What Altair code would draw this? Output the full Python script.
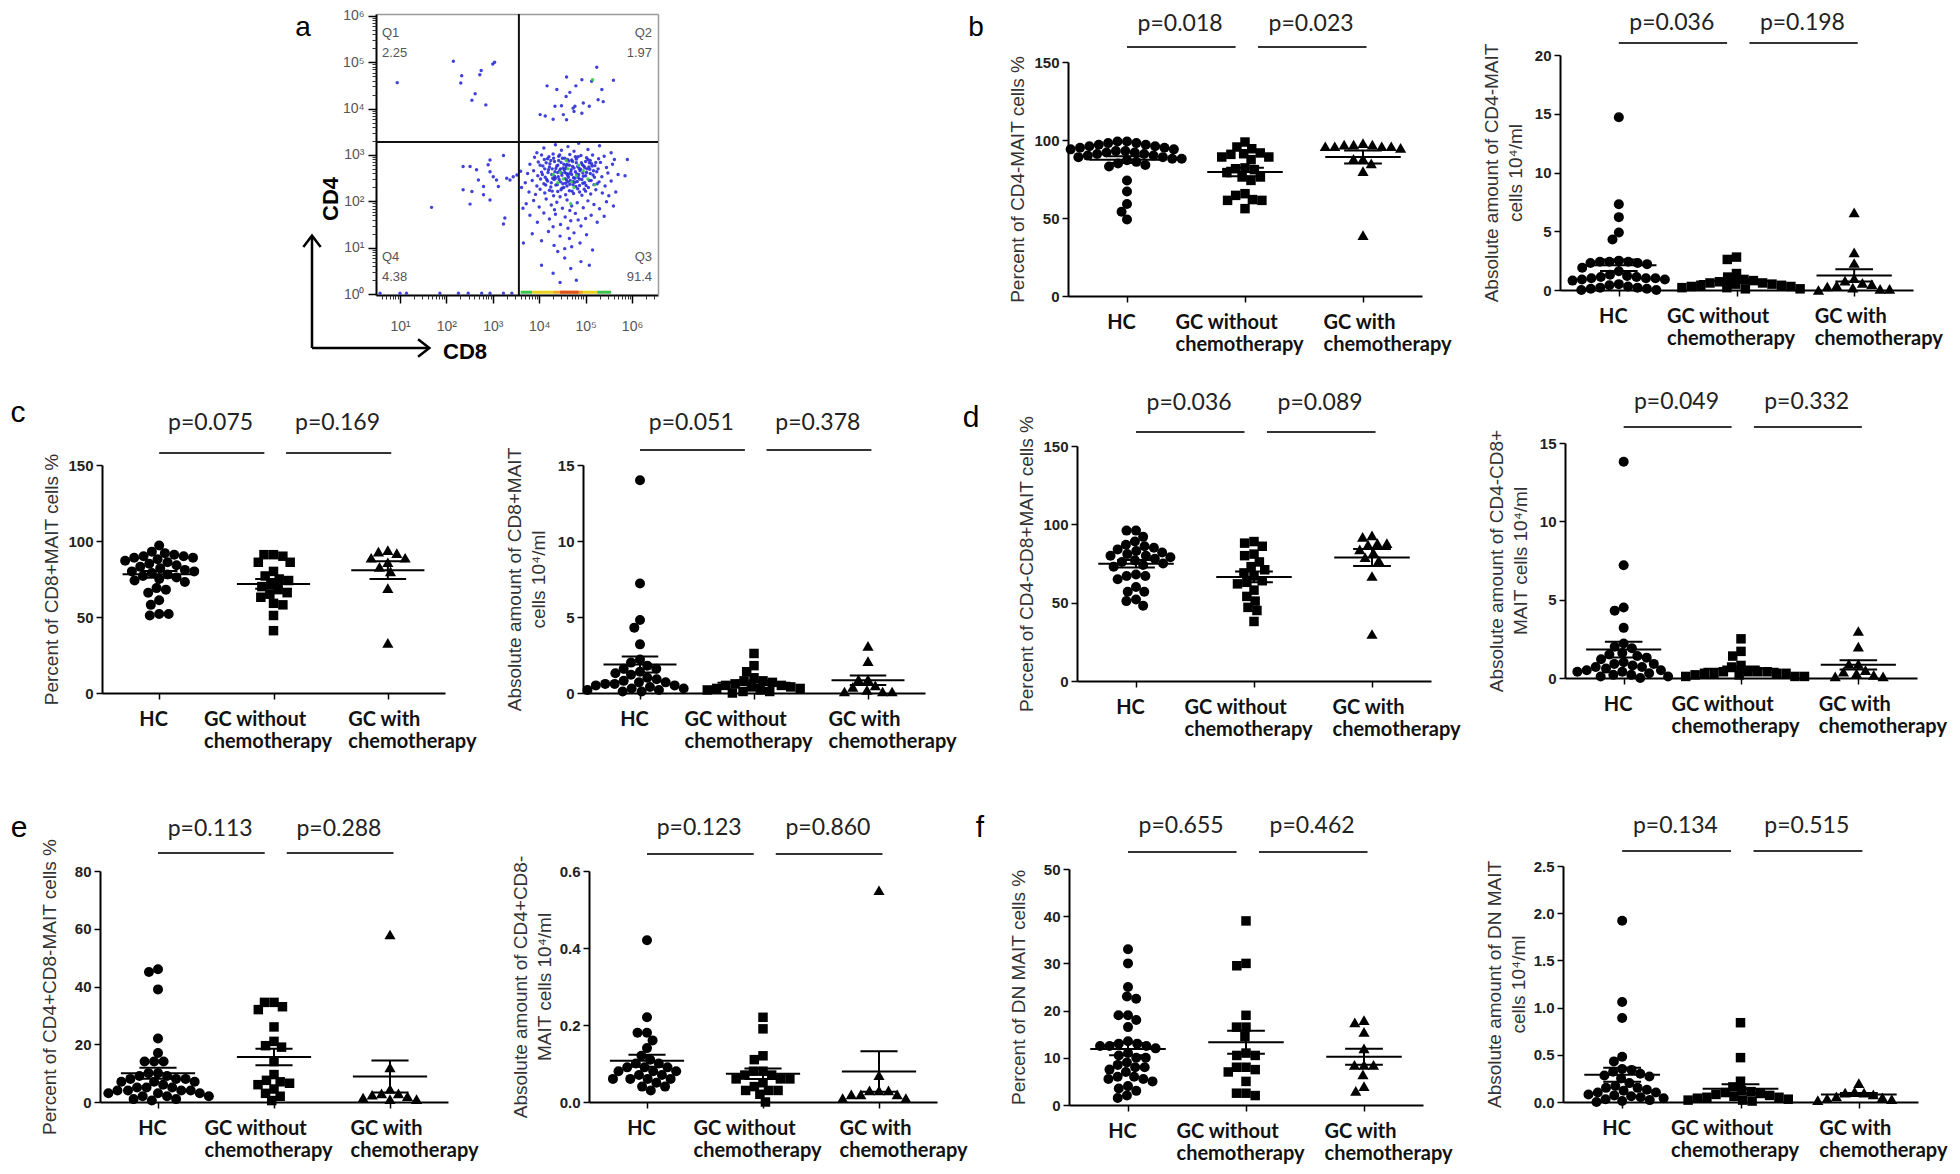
import altair as alt
import pandas as pd

# ============================ DATA ============================
CATS = ["HC", "GC without chemotherapy", "GC with chemotherapy"]

# b  CD4- MAIT
b_pct_hc = [99, 99, 98, 98, 97, 97, 96, 96, 95, 95, 94, 94, 93, 93, 92, 92, 91, 91, 90, 90, 89, 89, 88, 88, 87, 86, 85, 84, 83, 74, 67, 59, 54, 49]
b_pct_wo = [95.5, 98.7, 94.4, 91.7, 90.8, 89.1, 87.4, 89.1, 91.2, 81.6, 82.1, 81.0, 79.1, 76.3, 74.1, 76.3, 64.5, 61.3, 56.0, 65.6, 61.3, 61.8]
b_pct_w = [96, 97, 96, 97, 98, 96, 97, 96, 95, 88, 88, 85, 80, 39]
b_abs_hc = [14.7, 7.3, 6.2, 4.9, 4.3, 2.5, 2.4, 2.4, 2.4, 2.3, 2.3, 2.2, 1.9, 1.6, 1.3, 1.2, 1.1, 1.1, 1.0, 1.0, 1.0, 0.9, 0.9, 0.8, 0.5, 0.4, 0.3, 0.2, 0.2, 0.1, 0.1, 0.0, 0.0]
b_abs_wo = [2.8, 2.6, 1.4, 1.1, 0.9, 0.8, 0.7, 0.6, 0.6, 0.5, 0.5, 0.4, 0.4, 0.3, 0.3, 0.2, 0.2, 0.1, 0.1]
b_abs_w = [6.6, 3.2, 2.3, 1.0, 0.8, 0.6, 0.5, 0.4, 0.3, 0.2, 0.1, 0.1, 0.0]

# c  CD8+ MAIT
c_pct_hc = [97, 93, 92, 91, 90, 90, 89, 89, 88, 87, 86, 85, 84, 83, 82, 81, 80, 80, 79, 78, 77, 76, 75, 74, 73, 69, 68, 66, 61, 58, 52, 51, 52]
c_pct_wo = [91, 90, 91, 86, 86, 80, 77, 75, 74, 72, 70, 68, 66, 65, 63, 59, 58, 51, 41]
c_pct_w = [94, 93, 92, 89, 89, 86, 83, 80, 69, 33]
c_abs_hc = [14.0, 7.2, 4.8, 4.3, 3.2, 2.2, 2.0, 1.8, 1.6, 1.6, 1.4, 1.3, 1.2, 1.0, 0.9, 0.8, 0.7, 0.7, 0.6, 0.6, 0.5, 0.5, 0.4, 0.3, 0.3, 0.2, 0.2, 0.1, 0.1]
c_abs_wo = [2.6, 1.8, 1.4, 1.0, 0.8, 0.8, 0.7, 0.6, 0.5, 0.5, 0.4, 0.4, 0.3, 0.3, 0.2, 0.2, 0.1, 0.1, 0.0]
c_abs_w = [3.1, 2.1, 0.9, 0.9, 0.5, 0.4, 0.2, 0.1, 0.1, 0.1]

# d  CD4-CD8+ MAIT
d_pct_hc = [96, 96, 92, 89, 87, 86, 85, 84, 83, 82, 81, 80, 80, 79, 78, 77, 76, 75, 74, 73, 68, 67, 67, 65, 60, 57, 57, 52, 51, 48]
d_pct_wo = [89, 88, 86, 81, 80, 76, 73, 71, 69, 67, 64, 63, 62, 58, 54, 51, 47, 45, 38]
d_pct_w = [93, 92, 88, 88, 87, 84, 82, 79, 77, 67, 30]
d_abs_hc = [13.8, 7.2, 4.5, 4.3, 3.2, 2.2, 2.0, 1.9, 1.6, 1.5, 1.4, 1.3, 1.2, 1.0, 0.9, 0.9, 0.8, 0.7, 0.7, 0.6, 0.5, 0.5, 0.4, 0.4, 0.3, 0.2, 0.2, 0.1, 0.1, 0.0]
d_abs_wo = [2.5, 1.7, 1.4, 0.8, 0.7, 0.4, 0.4, 0.3, 0.3, 0.4, 0.4, 0.3, 0.3, 0.2, 0.2, 0.1, 0.1, 0.1]
d_abs_w = [3.0, 2.0, 0.9, 0.9, 0.5, 0.4, 0.3, 0.2, 0.1, 0.1]

# e  CD4+CD8- MAIT
e_pct_hc = [46, 45, 39, 22, 17, 14, 14, 14, 10, 10, 9, 9, 8, 8, 8, 7, 7, 7, 6, 5, 5, 5, 4, 4, 4, 4, 3, 3, 3, 2, 2, 2, 1, 1, 0.5]
e_pct_wo = [34.5, 33, 32, 34.5, 26, 21, 19.5, 19, 14, 9.5, 7.5, 7, 6.5, 6, 4.5, 3, 2, 0.5]
e_pct_w = [58, 12, 4.5, 3, 3, 2.5, 2, 1.5, 1, 1]
e_abs_hc = [0.42, 0.22, 0.18, 0.18, 0.16, 0.14, 0.12, 0.11, 0.10, 0.10, 0.09, 0.09, 0.09, 0.08, 0.08, 0.08, 0.07, 0.07, 0.06, 0.06, 0.06, 0.06, 0.05, 0.04, 0.04, 0.03]
e_abs_wo = [0.22, 0.19, 0.12, 0.11, 0.08, 0.08, 0.07, 0.07, 0.06, 0.06, 0.06, 0.05, 0.04, 0.03, 0.03, 0.03, 0.02, 0.0]
e_abs_w = [0.55, 0.07, 0.03, 0.03, 0.03, 0.02, 0.02, 0.02, 0.01, 0.01]

# f  DN MAIT
f_pct_hc = [33, 30, 25, 23, 22.5, 19, 19, 18, 16.5, 13.5, 13, 13, 12.5, 12.5, 12.5, 12, 11, 10.5, 10, 10, 9, 8.5, 8, 8, 7.5, 7, 6, 6, 5.5, 5.5, 5, 4, 3.5, 3, 2, 1.5]
f_pct_wo = [39, 30, 29.5, 19, 16.5, 16.5, 14.5, 11, 10.5, 10.5, 8, 8, 7.5, 7, 5, 2.5, 2, 2.5]
f_pct_w = [18, 17.5, 15.5, 12, 8.5, 8.5, 8.5, 6.5, 4, 3]
f_abs_hc = [1.92, 1.06, 0.89, 0.48, 0.43, 0.35, 0.34, 0.32, 0.3, 0.28, 0.27, 0.25, 0.2, 0.17, 0.15, 0.15, 0.13, 0.12, 0.1, 0.1, 0.08, 0.07, 0.06, 0.05, 0.04, 0.03, 0.02, 0.01, 0.0]
f_abs_wo = [0.84, 0.47, 0.22, 0.16, 0.12, 0.11, 0.1, 0.09, 0.08, 0.07, 0.06, 0.05, 0.05, 0.04, 0.03, 0.02, 0.02, 0.01]
f_abs_w = [0.2, 0.11, 0.1, 0.1, 0.08, 0.06, 0.05, 0.04, 0.03, 0.02]

P_VALUES = {
    "b1": ["p=0.018", "p=0.023"], "b2": ["p=0.036", "p=0.198"],
    "c1": ["p=0.075", "p=0.169"], "c2": ["p=0.051", "p=0.378"],
    "d1": ["p=0.036", "p=0.089"], "d2": ["p=0.049", "p=0.332"],
    "e1": ["p=0.113", "p=0.288"], "e2": ["p=0.123", "p=0.860"],
    "f1": ["p=0.655", "p=0.462"], "f2": ["p=0.134", "p=0.515"],
}

# a  flow cytometry events, [log10 CD8, log10 CD4]
flow_q1 = [[0.94, 4.56], [2.15, 5.02], [2.33, 4.71], [2.31, 4.55], [2.72, 4.73], [2.75, 4.82], [3.0, 4.96], [3.04, 5.0],
           [2.62, 4.32], [2.55, 4.18], [2.85, 4.08]]
flow_q2 = [[5.24, 4.89], [5.60, 4.61], [4.59, 4.68], [4.79, 4.49], [4.92, 4.62], [5.13, 4.59], [5.35, 4.41], [4.17, 4.49],
           [4.38, 4.41], [4.58, 4.26], [4.66, 4.35], [4.48, 4.06], [4.73, 4.01], [4.95, 4.12], [5.08, 4.05], [5.27, 4.19],
           [5.38, 4.15], [4.02, 3.87], [4.13, 3.84], [4.30, 3.77], [4.52, 3.87], [4.59, 3.76], [4.75, 3.94], [4.92, 3.90],
           [4.77, 4.05], [4.34, 4.05]]
flow_q4 = [[3.23, 2.99], [2.94, 2.89], [2.65, 2.68], [2.36, 2.75], [2.51, 2.75], [2.94, 2.64], [3.01, 2.53], [2.80, 2.32],
           [2.55, 2.21], [2.51, 1.94], [2.80, 2.14], [3.08, 2.46], [3.30, 2.50], [3.37, 2.46], [3.44, 2.53], [1.68, 1.87],
           [3.26, 1.64], [3.23, 1.51], [3.12, 2.32], [2.90, 2.79], [2.69, 2.46], [2.36, 2.25], [2.94, 2.03], [3.52, 2.57]]
flow_q3 = [
    [4.10, 3.15], [4.35, 3.22], [4.62, 3.18], [4.85, 3.25], [5.05, 3.12], [5.30, 3.20], [4.48, 3.10], [3.95, 3.05], [5.55, 3.05], [4.75, 3.08],
    [3.90, 2.95], [4.05, 3.00], [4.18, 2.92], [4.30, 3.02], [4.42, 2.97], [4.55, 2.93], [4.66, 3.01], [4.78, 2.96], [4.90, 2.99],
    [5.02, 2.94], [5.15, 3.00], [5.28, 2.92], [5.40, 2.97], [5.62, 2.90], [4.25, 2.88], [4.70, 2.89], [5.10, 2.88],
    [3.80, 2.80], [3.98, 2.85], [4.08, 2.76], [4.15, 2.83], [4.22, 2.74], [4.33, 2.86], [4.40, 2.78], [4.47, 2.84], [4.52, 2.72],
    [4.60, 2.80], [4.64, 2.87], [4.72, 2.75], [4.80, 2.83], [4.86, 2.71], [4.93, 2.79], [5.00, 2.86], [5.07, 2.74], [5.13, 2.81],
    [5.20, 2.77], [5.32, 2.84], [5.45, 2.73], [5.58, 2.80], [4.36, 2.71], [4.58, 2.77], [4.98, 2.73], [4.12, 2.70],
    [3.75, 2.60], [3.88, 2.66], [3.97, 2.55], [4.05, 2.63], [4.13, 2.52], [4.20, 2.68], [4.27, 2.58], [4.34, 2.64], [4.41, 2.53],
    [4.48, 2.61], [4.54, 2.68], [4.61, 2.56], [4.68, 2.63], [4.74, 2.51], [4.81, 2.59], [4.88, 2.66], [4.95, 2.54], [5.02, 2.62],
    [5.09, 2.69], [5.16, 2.57], [5.24, 2.64], [5.35, 2.53], [5.48, 2.61], [5.70, 2.58], [4.44, 2.66], [4.64, 2.59], [4.84, 2.52], [4.29, 2.50],
    [3.70, 2.40], [3.85, 2.45], [3.95, 2.33], [4.03, 2.48], [4.10, 2.38], [4.18, 2.44], [4.25, 2.31], [4.32, 2.47], [4.39, 2.36],
    [4.46, 2.42], [4.53, 2.30], [4.59, 2.46], [4.66, 2.37], [4.73, 2.43], [4.79, 2.32], [4.87, 2.48], [4.94, 2.39], [5.01, 2.34],
    [5.08, 2.45], [5.18, 2.36], [5.29, 2.42], [5.42, 2.33], [5.55, 2.44], [4.57, 2.39], [4.77, 2.41],
    [3.78, 2.20], [3.92, 2.15], [4.02, 2.26], [4.12, 2.18], [4.22, 2.24], [4.31, 2.12], [4.40, 2.21], [4.49, 2.28], [4.57, 2.14],
    [4.65, 2.23], [4.74, 2.17], [4.83, 2.27], [4.92, 2.13], [5.00, 2.22], [5.11, 2.16], [5.22, 2.25], [5.36, 2.18], [5.50, 2.12],
    [4.45, 2.10], [4.87, 2.20],
    [3.72, 1.95], [3.88, 2.02], [4.00, 1.88], [4.15, 2.05], [4.26, 1.92], [4.38, 1.98], [4.50, 1.85], [4.60, 2.03], [4.70, 1.90],
    [4.82, 1.97], [4.95, 1.86], [5.05, 2.01], [5.18, 1.93], [5.30, 1.84], [5.45, 1.99], [4.33, 1.82], [4.66, 1.80], [5.60, 1.90],
    [3.80, 1.70], [3.96, 1.55], [4.10, 1.75], [4.22, 1.62], [4.35, 1.72], [4.46, 1.50], [4.56, 1.66], [4.68, 1.58], [4.78, 1.74],
    [4.90, 1.47], [5.00, 1.63], [5.12, 1.70], [5.25, 1.55], [5.40, 1.68], [4.30, 1.45], [4.62, 1.42], [4.84, 1.60],
    [3.85, 1.30], [4.05, 1.15], [4.20, 1.35], [4.32, 1.05], [4.45, 1.25], [4.55, 0.98], [4.65, 1.20], [4.75, 1.32], [4.88, 1.10],
    [5.02, 1.28], [5.15, 0.95], [4.40, 0.92], [4.70, 1.02],
    [4.05, 0.62], [4.30, 0.45], [4.55, 0.78], [4.68, 0.55], [4.80, 0.30], [5.08, 0.62], [4.45, 0.25], [4.90, 0.70],
    [3.60, 2.65], [3.62, 2.30], [3.65, 1.85], [5.85, 2.55], [5.90, 2.90], [3.66, 1.10], [5.65, 2.20],
]
flow_q3_core = [
    [4.02, 2.78], [4.07, 2.58], [4.11, 2.90], [4.16, 2.47], [4.19, 2.62], [4.23, 2.81], [4.26, 2.40], [4.28, 2.70], [4.31, 2.93], [4.33, 2.54],
    [4.36, 2.35], [4.38, 2.76], [4.40, 2.62], [4.42, 2.88], [4.43, 2.47], [4.46, 2.70], [4.49, 2.56], [4.50, 2.93], [4.51, 2.38], [4.53, 2.80],
    [4.55, 2.62], [4.56, 2.49], [4.58, 2.71], [4.60, 2.33], [4.61, 2.90], [4.63, 2.52], [4.65, 2.78], [4.67, 2.45], [4.69, 2.68], [4.70, 2.58],
    [4.72, 2.86], [4.73, 2.36], [4.75, 2.72], [4.77, 2.50], [4.78, 2.64], [4.80, 2.91], [4.82, 2.43], [4.83, 2.75], [4.85, 2.58], [4.87, 2.34],
    [4.89, 2.69], [4.91, 2.83], [4.92, 2.47], [4.94, 2.61], [4.96, 2.76], [4.98, 2.40], [5.00, 2.55], [5.03, 2.70], [5.05, 2.90], [5.06, 2.30],
    [5.10, 2.60], [5.12, 2.45], [5.14, 2.76], [5.17, 2.66], [5.19, 2.52], [5.22, 2.84], [5.25, 2.38], [5.27, 2.70], [4.14, 2.35], [4.21, 2.96],
    [4.35, 2.50], [4.47, 2.25], [4.59, 2.60], [4.71, 2.22], [4.84, 2.96], [4.97, 2.26], [5.08, 2.83], [4.28, 2.22], [4.44, 3.00], [4.62, 2.42],
]
flow_green = [[4.45, 2.62], [4.62, 2.70], [4.80, 2.55], [4.52, 2.48], [4.70, 2.42], [4.95, 2.66], [4.40, 2.40], [4.85, 2.78],
              [5.05, 2.48], [4.58, 2.88], [4.30, 2.58], [4.75, 2.30], [5.20, 2.36], [4.68, 1.95], [5.15, 4.62]]
flow_axis_events = [0.57, 1.0, 1.14, 1.86, 2.26, 2.47, 2.76, 2.94, 3.23, 3.41]        # log10 CD8 of events on CD4 = 10^0
flow_axis_band = [[3.60, 3.85, "#3fc24a"], [3.85, 4.30, "#e8d21a"], [4.30, 4.95, "#f2a21c"],
                  [4.45, 4.85, "#e0531d"], [4.95, 5.25, "#e8d21a"], [5.25, 5.55, "#3fc24a"]]
gate_cd8 = 3650
gate_cd4 = 1900
flow_x_domain = [10 ** 0.483, 10 ** 6.56]
flow_y_domain = [10 ** -0.02, 10 ** 6.04]
quad_names = ["Q1", "Q2", "Q4", "Q3"]
quad_pcts = ["2.25", "1.97", "4.38", "91.4"]

# ============================ LAYOUT / STYLE ============================
M = 8                      # page margin; reference pixel -> view pixel
W, H = 1944, 1162


def ix(v):
    return v - M


SHAPES = ["circle", "square", "triangle-up"]
SIZES = [100, 90, 125]
PL1, PL2 = (0.0, 0.92), (1.11, 2.03)     # p-value bracket spans (category units)
PT = (0.45, 1.56)                         # p-value text centres
TXT = "#222222"

PANELS = [
    dict(key="b1", data=(b_pct_hc, b_pct_wo, b_pct_w), vtop=150, ticks=[0, 50, 100, 150], fmt="d",
         title="Percent of CD4-MAIT cells %", box=(1068, 1422, 296, 62), pline=47, ptext=24),
    dict(key="b2", data=(b_abs_hc, b_abs_wo, b_abs_w), vtop=20, ticks=[0, 5, 10, 15, 20], fmt="d",
         title=["Absolute amount of CD4-MAIT", "cells 10\u2074/ml"], box=(1560, 1913, 290, 55), pline=43, ptext=23),
    dict(key="c1", data=(c_pct_hc, c_pct_wo, c_pct_w), vtop=150, ticks=[0, 50, 100, 150], fmt="d",
         title="Percent of CD8+MAIT cells %", box=(102, 445, 693, 465), pline=453, ptext=423),
    dict(key="c2", data=(c_abs_hc, c_abs_wo, c_abs_w), vtop=15, ticks=[0, 5, 10, 15], fmt="d",
         title=["Absolute amount of CD8+MAIT", "cells 10\u2074/ml"], box=(583, 925, 693, 465), pline=450, ptext=423),
    dict(key="d1", data=(d_pct_hc, d_pct_wo, d_pct_w), vtop=150, ticks=[0, 50, 100, 150], fmt="d",
         title="Percent of CD4-CD8+MAIT cells %", box=(1077, 1431, 681, 446), pline=432, ptext=403),
    dict(key="d2", data=(d_abs_hc, d_abs_wo, d_abs_w), vtop=15, ticks=[0, 5, 10, 15], fmt="d",
         title=["Absolute amount of CD4-CD8+", "MAIT cells 10\u2074/ml"], box=(1565, 1917, 678, 443), pline=427, ptext=402),
    dict(key="e1", data=(e_pct_hc, e_pct_wo, e_pct_w), vtop=80, ticks=[0, 20, 40, 60, 80], fmt="d",
         title="Percent of CD4+CD8-MAIT cells %", box=(100, 448, 1102, 871), pline=853, ptext=829),
    dict(key="e2", data=(e_abs_hc, e_abs_wo, e_abs_w), vtop=0.6, ticks=[0, 0.2, 0.4, 0.6], fmt=".1f",
         title=["Absolute amount of CD4+CD8-", "MAIT cells 10\u2074/ml"], box=(589, 937, 1102, 871), pline=854, ptext=828),
    dict(key="f1", data=(f_pct_hc, f_pct_wo, f_pct_w), vtop=50, ticks=[0, 10, 20, 30, 40, 50], fmt="d",
         title="Percent of DN MAIT cells %", box=(1069, 1423, 1105, 869), pline=852, ptext=826),
    dict(key="f2", data=(f_abs_hc, f_abs_wo, f_abs_w), vtop=2.5, ticks=[0, 0.5, 1.0, 1.5, 2.0, 2.5], fmt=".1f",
         title=["Absolute amount of DN MAIT", "cells 10\u2074/ml"], box=(1563, 1918, 1102, 866), pline=851, ptext=826),
]

# (letter, centre x, baseline y, font size) in reference pixels
LETTERS = [("a", 303, 36, 28), ("b", 976, 36, 28), ("c", 18, 422, 30), ("d", 971, 427, 30),
           ("e", 19, 837, 30), ("f", 980, 837, 30)]


def swarm(vals, ppu, d=9.5):
    """Deterministic beeswarm: horizontal pixel offsets so markers do not overlap."""
    order = sorted(range(len(vals)), key=lambda i: -vals[i])
    placed, offs = [], [0.0] * len(vals)
    for i in order:
        y = vals[i] * ppu
        cands = [0.0]
        for (a, b) in placed:
            dy = abs(b - y)
            if dy < d:
                w = (d * d - dy * dy) ** 0.5
                cands.extend([a + w, a - w])
        cands.sort(key=lambda c: (abs(c), c))
        for c in cands:
            if all((c - a) ** 2 + (y - b) ** 2 >= d * d - 1e-6 for a, b in placed):
                offs[i] = c
                placed.append((c, y))
                break
    return offs


XLABEL = ("datum.value == 0 ? 'HC' : datum.value == 1 ? ['GC without', 'chemotherapy'] "
          ": ['GC with', 'chemotherapy']")


def make_panel(p):
    xl, xr, y0, yt = [ix(v) for v in p["box"]]
    step = (xr - xl) / 3.0
    ppu = (y0 - yt) / p["vtop"]
    xs = alt.Scale(domain=[-0.5, 2.5], range=[xl, xr], nice=False, zero=False)
    ys = alt.Scale(domain=[0, p["vtop"]], range=[y0, yt], nice=False, zero=False)
    rows = []
    for gi, vals in enumerate(p["data"]):
        offs = swarm(vals, ppu)
        for v, o in zip(vals, offs):
            rows.append({"gi": gi, "v": v, "x": gi + o / step})
    df = pd.DataFrame(rows)
    two_line = isinstance(p["title"], list)
    xaxis = alt.Axis(
        orient="bottom", offset=y0 - H, values=[0, 1, 2], labelExpr=XLABEL, title=None, grid=False,
        domainColor="black", domainWidth=2, tickColor="black", tickWidth=1.5, tickSize=6,
        labelFont="Lato", labelFontWeight="bold", labelFontSize=20, labelLineHeight=22, labelPadding=10,
        labelColor="#111111", labelFlush=False, labelOverlap=False, labelBound=False,
        labelAlign={"condition": {"test": "datum.value == 0", "value": "center"}, "value": "left"},
        labelOffset={"condition": [{"test": "datum.value == 0", "value": -6},
                                   {"test": "datum.value == 1", "value": -70}], "value": -40},
    )
    yaxis = alt.Axis(
        orient="left", offset=-xl, values=p["ticks"], format=p["fmt"], title=p["title"], grid=False,
        domainColor="black", domainWidth=2, tickColor="black", tickWidth=1.5, tickSize=6,
        labelFont="Liberation Sans", labelFontWeight="bold", labelFontSize=15, labelColor=TXT, labelPadding=3,
        labelFlush=False, labelOverlap=False, minExtent=32, maxExtent=32,
        titleFont="Liberation Sans", titleFontWeight="normal", titleFontSize=19, titleColor="#333333",
        titleLineHeight=24, titlePadding=3 if two_line else 9,
    )
    layers = []
    for gi in range(3):
        layers.append(
            alt.Chart(df[df.gi == gi]).mark_point(shape=SHAPES[gi], size=SIZES[gi], filled=True,
                                                  color="black", opacity=1, strokeWidth=0)
            .encode(x=alt.X("x:Q", scale=xs, axis=xaxis if gi == 0 else None),
                    y=alt.Y("v:Q", scale=ys, axis=yaxis if gi == 0 else None))
        )
    stats = alt.Chart(df).transform_aggregate(
        m="mean(v)", se="stderr(v)", groupby=["gi"]
    ).transform_calculate(
        lo="datum.m - datum.se", hi="datum.m + datum.se",
        xa="datum.gi - 0.32", xb="datum.gi + 0.32", ca="datum.gi - 0.16", cb="datum.gi + 0.16",
    )
    rs = dict(color="black", strokeWidth=2)
    layers.append(stats.mark_rule(**rs).encode(x=alt.X("xa:Q", scale=xs, axis=None), x2=alt.X2("xb"),
                                               y=alt.Y("m:Q", scale=ys, axis=None)))
    for fld in ("hi", "lo"):
        layers.append(stats.mark_rule(**rs).encode(x=alt.X("ca:Q", scale=xs, axis=None), x2=alt.X2("cb"),
                                                   y=alt.Y(fld + ":Q", scale=ys, axis=None)))
    layers.append(stats.mark_rule(**rs).encode(x=alt.X("gi:Q", scale=xs, axis=None),
                                               y=alt.Y("lo:Q", scale=ys, axis=None), y2=alt.Y2("hi")))
    pl = pd.DataFrame({"a": [PL1[0], PL2[0]], "b": [PL1[1], PL2[1]]})
    layers.append(alt.Chart(pl).mark_rule(color="#333333", strokeWidth=2).encode(
        x=alt.X("a:Q", scale=xs, axis=None), x2=alt.X2("b"), y=alt.value(ix(p["pline"]))))
    pt = pd.DataFrame({"a": list(PT), "t": P_VALUES[p["key"]]})
    layers.append(alt.Chart(pt).mark_text(font="Lato", fontSize=23, color=TXT, baseline="middle").encode(
        x=alt.X("a:Q", scale=xs, axis=None), y=alt.value(ix(p["ptext"])), text="t:N"))
    return alt.layer(*layers).resolve_axis(x="independent", y="independent")


# ---------------- panel a (flow) ----------------
SUP = "'10' + ['\u2070','\u00b9','\u00b2','\u00b3','\u2074','\u2075','\u2076'][round(log(datum.value) / LN10)]"
fxs = alt.Scale(type="log", domain=flow_x_domain, range=[ix(376), ix(658)], nice=False)
fys = alt.Scale(type="log", domain=flow_y_domain, range=[ix(295), ix(14)], nice=False)
minor_x = [k * 10 ** e for e in range(0, 7) for k in range(2, 10) if flow_x_domain[0] <= k * 10 ** e <= flow_x_domain[1]]
minor_y = [k * 10 ** e for e in range(0, 7) for k in range(2, 10) if flow_y_domain[0] <= k * 10 ** e <= flow_y_domain[1]]

ax_common = dict(title=None, grid=False, labelFont="Liberation Sans", labelFontSize=14, labelColor="#555555",
                 tickColor="black", domainColor="black", labelFlush=False, labelOverlap=False)
fx_major = alt.Axis(orient="bottom", offset=ix(295) - H, values=[10 ** k for k in range(1, 7)], labelExpr=SUP,
                    tickSize=8, tickWidth=1.5, domainWidth=2, labelPadding=16, **ax_common)
fy_major = alt.Axis(orient="left", offset=-ix(376), values=[10 ** k for k in range(0, 7)], labelExpr=SUP,
                    tickSize=8, tickWidth=1.5, domainWidth=2, labelPadding=4, **ax_common)
fx_minor = alt.Axis(orient="bottom", offset=ix(295) - H, values=minor_x, labels=False, tickSize=4, tickWidth=1,
                    domain=False, title=None, grid=False, tickColor="#333333")
fy_minor = alt.Axis(orient="left", offset=-ix(376), values=minor_y, labels=False, tickSize=4, tickWidth=1,
                    domain=False, title=None, grid=False, tickColor="#333333")
fx_frame = alt.Axis(orient="top", offset=-ix(14), ticks=False, labels=False, domainColor="#9a9a9a",
                    domainWidth=1.5, title=None, grid=False)
fy_frame = alt.Axis(orient="right", offset=ix(658) - W, ticks=False, labels=False, domainColor="#9a9a9a",
                    domainWidth=1.5, title=None, grid=False)

ev = pd.DataFrame([{"x": 10 ** a, "y": 10 ** b} for a, b in flow_q1 + flow_q2 + flow_q3 + flow_q3_core + flow_q4])
ev_green = pd.DataFrame([{"x": 10 ** a, "y": 10 ** b} for a, b in flow_green])
ev_axis = pd.DataFrame({"x": [10 ** a for a in flow_axis_events], "y": [10 ** 0.02] * len(flow_axis_events)})
band = pd.DataFrame([{"x": 10 ** a, "x2": 10 ** b, "c": c, "y": 10 ** 0.04} for a, b, c in flow_axis_band])

flow_layers = [
    alt.Chart(ev).mark_circle(size=12, color="#2b2bd6", opacity=0.9).encode(
        x=alt.X("x:Q", scale=fxs, axis=fx_major), y=alt.Y("y:Q", scale=fys, axis=fy_major)),
    alt.Chart(ev_green).mark_circle(size=12, color="#35c94a", opacity=0.9).encode(
        x=alt.X("x:Q", scale=fxs, axis=fx_minor), y=alt.Y("y:Q", scale=fys, axis=fy_minor)),
    alt.Chart(ev_axis).mark_circle(size=10, color="#2b2bd6", opacity=0.9).encode(
        x=alt.X("x:Q", scale=fxs, axis=None), y=alt.Y("y:Q", scale=fys, axis=None)),
    alt.Chart(band).mark_rule(strokeWidth=3).encode(
        x=alt.X("x:Q", scale=fxs, axis=None), x2=alt.X2("x2"), y=alt.Y("y:Q", scale=fys, axis=None),
        color=alt.Color("c:N", scale=None)),
    alt.Chart(pd.DataFrame({"x": [gate_cd8], "y": [flow_y_domain[0]], "y2": [flow_y_domain[1]]}))
    .mark_rule(color="#111111", strokeWidth=2).encode(
        x=alt.X("x:Q", scale=fxs, axis=fx_frame), y=alt.Y("y:Q", scale=fys, axis=fy_frame), y2=alt.Y2("y2")),
    alt.Chart(pd.DataFrame({"y": [gate_cd4], "x": [flow_x_domain[0]], "x2": [flow_x_domain[1]]}))
    .mark_rule(color="#111111", strokeWidth=2).encode(
        x=alt.X("x:Q", scale=fxs, axis=None), x2=alt.X2("x2"), y=alt.Y("y:Q", scale=fys, axis=None)),
]
flow = alt.layer(*flow_layers).resolve_axis(x="independent", y="independent")

# ---------------- annotations (panel a labels, arrows, letters) ----------------
one = pd.DataFrame({"_": [0]})
annot = []
quad_pos = [(ix(382), ix(33), "left"), (ix(652), ix(33), "right"), (ix(382), ix(257), "left"), (ix(652), ix(257), "right")]
for (qx, qy, al), nm, pc in zip(quad_pos, quad_names, quad_pcts):
    for txt, dy in ((nm, 0), (pc, 20)):
        annot.append(alt.Chart(one).mark_text(text=txt, font="Liberation Sans", fontSize=13, color="#555555",
                                              align=al, baseline="middle")
                     .encode(x=alt.value(qx), y=alt.value(qy + dy)))
annot.append(alt.Chart(one).mark_rule(color="black", strokeWidth=2.5).encode(
    x=alt.value(ix(312)), y=alt.value(ix(238)), y2=alt.value(ix(348))))
annot.append(alt.Chart(one).mark_rule(color="black", strokeWidth=2.5).encode(
    x=alt.value(ix(312)), x2=alt.value(ix(428)), y=alt.value(ix(348))))
annot.append(alt.Chart(one).mark_point(shape="M -1 0.8 L 0 -0.5 L 1 0.8", size=300, filled=False, color="black",
                                       strokeWidth=2.5, opacity=1)
             .encode(x=alt.value(ix(312)), y=alt.value(ix(240))))
annot.append(alt.Chart(one).mark_point(shape="M -0.8 -1 L 0.5 0 L -0.8 1", size=300, filled=False, color="black",
                                       strokeWidth=2.5, opacity=1)
             .encode(x=alt.value(ix(425)), y=alt.value(ix(348))))
annot.append(alt.Chart(one).mark_text(text="CD4", font="Liberation Sans", fontWeight="bold", fontSize=22,
                                      angle=270, color="black", align="center", baseline="middle")
             .encode(x=alt.value(ix(331)), y=alt.value(ix(199))))
annot.append(alt.Chart(one).mark_text(text="CD8", font="Liberation Sans", fontWeight="bold", fontSize=22,
                                      color="black", align="center", baseline="middle")
             .encode(x=alt.value(ix(465)), y=alt.value(ix(352))))
for ch, lx, ly, fs in LETTERS:
    annot.append(alt.Chart(one).mark_text(text=ch, font="Liberation Sans", fontSize=fs, color="black",
                                          align="center", baseline="alphabetic")
                 .encode(x=alt.value(ix(lx)), y=alt.value(ix(ly))))

chart = alt.layer(flow, *[make_panel(p) for p in PANELS], *annot).resolve_scale(
    x="independent", y="independent"
).properties(
    width=W, height=H, padding=0, autosize=alt.AutoSizeParams(type="none"), background="white"
).configure_view(stroke=None).configure_axis(grid=False)

chart.save("out.html", embed_options={"renderer": "svg", "actions": False})
